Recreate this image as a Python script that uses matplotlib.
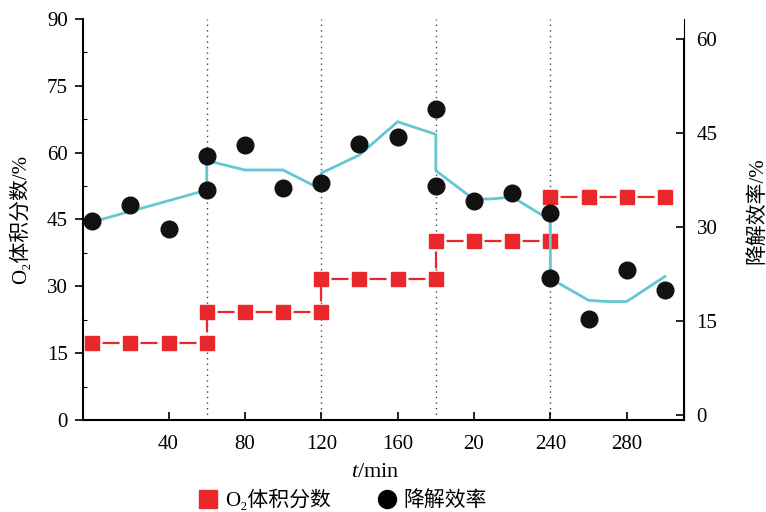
import matplotlib.pyplot as plt
from matplotlib.lines import Line2D
from matplotlib.ticker import MultipleLocator

plt.rcParams['font.family'] = ['Liberation Serif', 'Noto Sans CJK SC', 'DejaVu Serif']
plt.rcParams['mathtext.fontset'] = 'custom'
plt.rcParams['mathtext.it'] = 'Liberation Serif:italic'
plt.rcParams['mathtext.rm'] = 'Liberation Serif'
plt.rcParams['lines.scale_dashes'] = False

# O2 volume fraction (left axis), stepped
o2_t = [0, 20, 40, 60, 60, 80, 100, 120, 120, 140, 160, 180, 180, 200, 220, 240, 240, 260, 280, 300]
o2_val = [17.2, 17.2, 17.2, 17.2, 24.2, 24.2, 24.2, 24.2, 31.6, 31.6, 31.6, 31.6,
          40.1, 40.1, 40.1, 40.1, 50.0, 50.0, 50.0, 50.0]

# degradation efficiency (right axis), measured
eff_t = [0, 20, 40, 60, 60, 80, 100, 120, 140, 160, 180, 180, 200, 220, 240, 240, 260, 280, 300]
eff_val = [31.0, 33.5, 29.7, 35.9, 41.4, 43.1, 36.3, 37.1, 43.2, 44.4, 48.8, 36.5,
           34.1, 35.5, 32.2, 21.8, 15.3, 23.2, 19.9]

# fitted curve (right axis)
fit_t = [0, 60, 60, 80, 100, 120, 120, 140, 160, 180, 180, 200, 210, 220, 240, 240, 260, 270, 280, 300]
fit_val = [30.8, 35.9, 40.6, 39.1, 39.1, 36.0, 38.6, 41.5, 46.8, 44.8, 39.0, 34.4,
           34.5, 34.8, 31.1, 21.8, 18.3, 18.1, 18.1, 22.1]

xticks = [40, 80, 120, 160, 200, 240, 280]
xticklabels = ['40', '80', '120', '160', '20', '240', '280']
switch_t = [60, 120, 180, 240]

red = '#e8282b'
cyan = '#62c8d2'

fig = plt.figure(figsize=(7.66, 5.12), dpi=100)
ax = fig.add_axes([0.1084, 0.1797, 0.7845, 0.7832])
ax2 = ax.twinx()

for t in switch_t:
    ax.axvline(t, color='#444444', linestyle=(0, (1, 3)), linewidth=1.0, zorder=1)

# one centred dash between neighbouring squares
for i in range(len(o2_t) - 1):
    ax.plot(o2_t[i:i + 2], o2_val[i:i + 2], color=red, linewidth=1.6,
            linestyle=(19.9, (12.2, 15.3)), zorder=3)
ax.plot(o2_t, o2_val, linestyle='none', marker='s', markersize=10, color=red, zorder=3)
ax2.plot(fit_t, fit_val, color=cyan, linewidth=2.0, zorder=2)
ax2.plot(eff_t, eff_val, linestyle='none', marker='o', markersize=12,
         color='#111111', zorder=4)

ax.set_xlim(-4.8, 310)
ax.set_ylim(0, 90)
ax2.set_ylim(-0.8, 63.2)

ax.set_xticks(xticks)
ax.set_xticklabels(xticklabels)
ax.set_yticks([0, 15, 30, 45, 60, 75, 90])
ax.yaxis.set_minor_locator(MultipleLocator(7.5))
ax2.set_yticks([0, 15, 30, 45, 60])

ax.tick_params(axis='x', direction='in', length=6, width=1.2, labelsize=15, pad=11)
ax.tick_params(axis='y', which='major', direction='out', length=6, width=1.2, labelsize=15, pad=5)
ax.tick_params(axis='y', which='minor', direction='in', length=3, width=0.8)
ax2.tick_params(axis='y', direction='in', length=6, width=1.2, labelsize=15, pad=9)

ax.spines['top'].set_visible(False)
ax2.spines['top'].set_visible(False)
for s in ['left', 'bottom']:
    ax.spines[s].set_linewidth(1.5)
ax2.spines['right'].set_linewidth(1.5)
ax2.spines['right'].set_bounds(-0.8, 60)
ax2.spines['left'].set_visible(False)
ax2.spines['bottom'].set_visible(False)

fig.text(0.027, 0.572, 'O₂体积分数/%', rotation=90, ha='center', va='center', fontsize=15)
fig.text(0.988, 0.588, '降解效率/%', rotation=90, ha='center', va='center', fontsize=15)
fig.text(0.490, 0.078, '$t$/min', ha='center', va='center', fontsize=16)

handles = [
    Line2D([], [], linestyle='none', marker='s', markersize=13, color=red),
    Line2D([], [], linestyle='none', marker='o', markersize=13, color='black'),
]
fig.legend(handles, ['O₂体积分数', '降解效率'], loc='center', ncol=2,
           bbox_to_anchor=(0.447, 0.023), frameon=False, fontsize=15,
           handletextpad=0.3, columnspacing=2.2, handlelength=1.0)

fig.savefig('out.png', dpi=100)
